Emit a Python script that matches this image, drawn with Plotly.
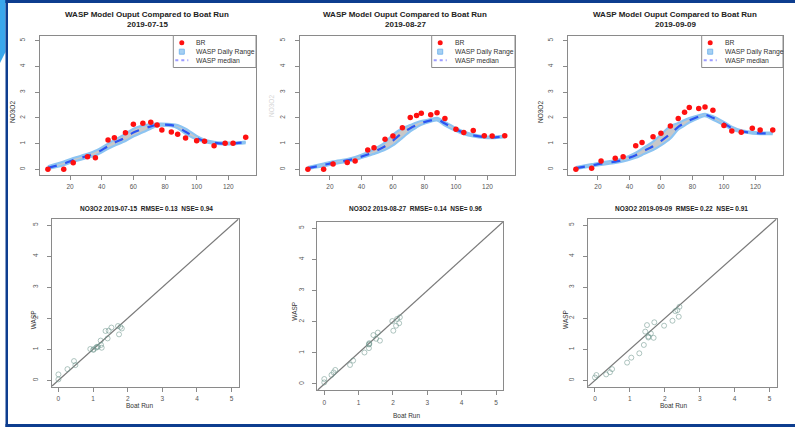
import plotly.graph_objects as go

W, H = 795, 428
def fx(x): return x / W
def fy(y): return 1 - y / H

# ---------------- data ----------------
stations = [6, 16, 22, 31, 36, 44, 48, 55, 60, 66, 71, 75, 78, 84, 88, 93, 100, 105, 111, 118, 123, 131]
dates = ["2019-07-15", "2019-08-27", "2019-09-09"]
rmse = [0.13, 0.14, 0.22]
nse = [0.94, 0.96, 0.91]

br_0715 = [0.0, 0.0, 0.26, 0.49, 0.45, 1.14, 1.23, 1.42, 1.75, 1.79, 1.83, 1.72, 1.53, 1.45, 1.36, 1.22, 1.11, 1.09, 0.92, 1.01, 1.01, 1.25]
br_0827 = [0.0, 0.0, 0.21, 0.27, 0.32, 0.75, 0.84, 1.17, 1.30, 1.62, 2.01, 2.09, 2.18, 2.12, 2.20, 1.98, 1.56, 1.43, 1.51, 1.31, 1.30, 1.31]
br_0909 = [0.0, 0.04, 0.32, 0.43, 0.49, 0.92, 1.04, 1.27, 1.40, 1.68, 1.98, 2.22, 2.40, 2.36, 2.42, 2.30, 1.70, 1.49, 1.44, 1.60, 1.53, 1.53]

med_0715 = [0.06, 0.22, 0.36, 0.52, 0.62, 0.90, 1.03, 1.24, 1.43, 1.57, 1.67, 1.73, 1.74, 1.72, 1.65, 1.46, 1.22, 1.10, 1.03, 1.00, 1.01, 1.05]
lo_0715  = [0.02, 0.16, 0.29, 0.45, 0.54, 0.80, 0.92, 1.10, 1.28, 1.44, 1.58, 1.69, 1.70, 1.68, 1.60, 1.38, 1.16, 1.06, 1.00, 0.97, 0.98, 1.02]
hi_0715  = [0.12, 0.30, 0.44, 0.60, 0.72, 1.00, 1.14, 1.38, 1.58, 1.70, 1.76, 1.78, 1.78, 1.76, 1.72, 1.58, 1.30, 1.15, 1.07, 1.04, 1.04, 1.08]

med_0827 = [0.05, 0.17, 0.25, 0.35, 0.42, 0.58, 0.68, 0.90, 1.12, 1.42, 1.60, 1.72, 1.80, 1.90, 1.95, 1.78, 1.55, 1.42, 1.32, 1.25, 1.24, 1.28]
lo_0827  = [0.02, 0.12, 0.20, 0.30, 0.36, 0.52, 0.60, 0.76, 0.93, 1.22, 1.48, 1.63, 1.73, 1.85, 1.90, 1.70, 1.49, 1.37, 1.28, 1.22, 1.21, 1.25]
hi_0827  = [0.09, 0.22, 0.31, 0.40, 0.48, 0.66, 0.78, 1.05, 1.35, 1.60, 1.72, 1.82, 1.88, 1.95, 2.00, 1.84, 1.61, 1.47, 1.36, 1.28, 1.27, 1.31]

med_0909 = [0.05, 0.15, 0.22, 0.30, 0.37, 0.55, 0.68, 0.90, 1.10, 1.38, 1.65, 1.80, 1.90, 2.05, 2.12, 2.00, 1.78, 1.60, 1.48, 1.42, 1.40, 1.40]
lo_0909  = [0.02, 0.11, 0.17, 0.25, 0.31, 0.45, 0.56, 0.75, 0.93, 1.20, 1.55, 1.70, 1.82, 1.99, 2.07, 1.93, 1.72, 1.55, 1.44, 1.39, 1.37, 1.37]
hi_0909  = [0.09, 0.20, 0.27, 0.35, 0.43, 0.65, 0.80, 1.08, 1.35, 1.68, 1.80, 1.92, 1.99, 2.10, 2.16, 2.06, 1.84, 1.66, 1.52, 1.46, 1.43, 1.43]

# WASP value paired with each boat-run sample (scatter panels)
wasp_0715 = [0.03, 0.19, 0.36, 0.49, 0.62, 1.08, 1.14, 1.35, 1.48, 1.72, 1.67, 1.75, 1.70, 1.60, 1.59, 1.28, 1.08, 1.05, 1.01, 0.98, 1.00, 1.05]
wasp_0827 = [0.05, 0.16, 0.29, 0.37, 0.45, 0.61, 0.75, 1.01, 1.15, 1.39, 1.71, 1.87, 1.95, 2.09, 2.14, 2.02, 1.65, 1.57, 1.45, 1.31, 1.27, 1.28]
wasp_0909 = [0.09, 0.17, 0.19, 0.26, 0.36, 0.57, 0.73, 0.87, 1.14, 1.37, 1.76, 1.92, 2.05, 2.26, 2.37, 2.23, 1.87, 1.78, 1.57, 1.51, 1.41, 1.38]

x_ticks = [20, 40, 60, 80, 100, 120]
v_ticks = [0, 1, 2, 3, 4, 5]

BR = [br_0715, br_0827, br_0909]
MED = [med_0715, med_0827, med_0909]
LO = [lo_0715, lo_0827, lo_0909]
HI = [hi_0715, hi_0827, hi_0909]
WASP = [wasp_0715, wasp_0827, wasp_0909]

# ---------------- layout geometry (pixels) ----------------
top_x = [(40, 256), (300, 515), (568, 783)]
top_y = (35.5, 174.5)
bot_x = [(51.5, 238.5), (317.4, 502.9), (588, 776.5)]
bot_y = [(219, 386.5), (222, 390.2), (219, 386.5)]

FONT = "Liberation Sans, Arial, sans-serif"
BOX = "#8a8a8a"
TICKF = dict(size=6.5, color="#555555", family=FONT)

fig = go.Figure()

for i in range(3):
    xa = "x" if i == 0 else f"x{i+1}"
    ya = "y" if i == 0 else f"y{i+1}"
    fig.add_trace(go.Scatter(x=stations, y=LO[i], mode="lines", line=dict(color="#8cc4f2", width=2.2, shape="spline", smoothing=0.8),
                             xaxis=xa, yaxis=ya, showlegend=False, hoverinfo="skip"))
    fig.add_trace(go.Scatter(x=stations, y=HI[i], mode="lines", fill="tonexty", fillcolor="#c8c8c8",
                             line=dict(color="#8cc4f2", width=2.2, shape="spline", smoothing=0.8),
                             xaxis=xa, yaxis=ya, showlegend=False, hoverinfo="skip"))
    fig.add_trace(go.Scatter(x=stations, y=MED[i], mode="lines",
                             line=dict(color="#2b55f2", width=2.2, dash="dash", shape="spline", smoothing=0.8),
                             xaxis=xa, yaxis=ya, showlegend=False))
    fig.add_trace(go.Scatter(x=stations, y=BR[i], mode="markers", marker=dict(color="#ff1010", size=5.5),
                             xaxis=xa, yaxis=ya, showlegend=False))
    # scatter panel
    j = i + 4
    fig.add_trace(go.Scatter(x=BR[i], y=WASP[i], mode="markers",
                             marker=dict(symbol="circle-open", size=5, color="rgba(110,150,140,0.55)", line=dict(width=1)),
                             xaxis=f"x{j}", yaxis=f"y{j}", showlegend=False))

layout = dict(width=W, height=H, margin=dict(l=0, r=0, t=0, b=0),
              paper_bgcolor="white", plot_bgcolor="white", showlegend=False)

def axis_common():
    return dict(showgrid=False, zeroline=False, showline=True, linecolor=BOX, linewidth=1, mirror=True,
                ticks="outside", ticklen=4, tickcolor=BOX, tickwidth=1, tickfont=TICKF)

for i in range(3):
    k = "" if i == 0 else str(i + 1)
    xd = (fx(top_x[i][0]), fx(top_x[i][1]))
    yd = (fy(top_y[1]), fy(top_y[0]))
    layout["xaxis" + k] = dict(axis_common(), domain=xd, range=[1, 137.5], tickvals=x_ticks,
                               anchor="y" + k, ticklabelstandoff=2)
    layout["yaxis" + k] = dict(axis_common(), domain=yd, range=[-0.2, 5.2], tickvals=v_ticks,
                               anchor="x" + k, tickangle=-90, ticklabelstandoff=7)
    j = str(i + 4)
    xd = (fx(bot_x[i][0]), fx(bot_x[i][1]))
    yd = (fy(bot_y[i][1]), fy(bot_y[i][0]))
    layout["xaxis" + j] = dict(axis_common(), domain=xd, range=[-0.2, 5.2], tickvals=v_ticks,
                               anchor="y" + j, ticklabelstandoff=2)
    layout["yaxis" + j] = dict(axis_common(), domain=yd, range=[-0.2, 5.2], tickvals=v_ticks,
                               anchor="x" + j, tickangle=-90, ticklabelstandoff=6)

fig.update_layout(**layout)

shapes = []
ann = []

def text(x, y, s, size, bold=False, color="#222222", angle=0, xanchor="center"):
    ann.append(dict(x=fx(x), y=fy(y), xref="paper", yref="paper", text=(f"<b>{s}</b>" if bold else s),
                    showarrow=False, xanchor=xanchor, yanchor="middle", textangle=angle,
                    font=dict(size=size, family=FONT, color=color)))

# slide frame
shapes.append(dict(type="rect", xref="paper", yref="paper", x0=fx(5), x1=1, y0=fy(3), y1=1,
                   fillcolor="#0d3d8f", line=dict(width=0), layer="above"))
shapes.append(dict(type="path", xref="paper", yref="paper",
                   path=f"M 0 1 L {fx(5.5)} 1 L {fx(5.5)} {fy(52)} L 0 {fy(63)} Z",
                   fillcolor="#3aa7ec", line=dict(width=0), layer="above"))
shapes.append(dict(type="rect", xref="paper", yref="paper", x0=fx(5.5), x1=fx(8), y0=fy(427), y1=1,
                   fillcolor="#0d3d8f", line=dict(width=0), layer="above"))
shapes.append(dict(type="rect", xref="paper", yref="paper", x0=fx(5.5), x1=1, y0=fy(427), y1=fy(424),
                   fillcolor="#0d3d8f", line=dict(width=0), layer="above"))

# titles and labels
title_cx = [147, 405, 675]
for i in range(3):
    text(title_cx[i], 15, "WASP Model Ouput Compared to Boat Run", 8, bold=True)
    text(title_cx[i], 24.5, dates[i], 8, bold=True)

text(12, 112, "NO3O2", 6.5, angle=-90, color="#333333")
text(272, 106, "NO3O2", 6.5, angle=-90, color="#d6d6d6")
text(540, 112, "NO3O2", 6.5, angle=-90, color="#333333")

sc_title_cx = [146.7, 415, 681.7]
for i in range(3):
    text(sc_title_cx[i], 208.8, f"NO3O2 {dates[i]}  RMSE= {rmse[i]:.2f}  NSE= {nse[i]:.2f}", 6.5, bold=True)

for (x, y) in [(139.3, 405.7), (406.7, 415), (673, 405.7)]:
    text(x, y, "Boat Run", 6.5, color="#333333")
for (x, y) in [(33.3, 320), (295, 311.7), (565, 320)]:
    text(x, y, "WASP", 6.5, angle=-90, color="#333333")

# legends (top panels)
legs = [(173.3, 256), (431.7, 515), (701.7, 783)]
for (L, R) in legs:
    shapes.append(dict(type="rect", xref="paper", yref="paper", x0=fx(L), x1=fx(R), y0=fy(67.5), y1=fy(35.5),
                       fillcolor="white", line=dict(color=BOX, width=1), layer="above"))
    shapes.append(dict(type="circle", xref="paper", yref="paper", x0=fx(L + 6), x1=fx(L + 11),
                       y0=fy(45.2), y1=fy(40.2), fillcolor="#ff1010", line=dict(width=0), layer="above"))
    shapes.append(dict(type="rect", xref="paper", yref="paper", x0=fx(L + 6), x1=fx(L + 11),
                       y0=fy(54.2), y1=fy(49.2), fillcolor="#a6d0f2", line=dict(color="#7cb9ee", width=1), layer="above"))
    shapes.append(dict(type="line", xref="paper", yref="paper", x0=fx(L + 2), x1=fx(L + 15),
                       y0=fy(60.3), y1=fy(60.3), line=dict(color="#9c9cff", width=2, dash="dot"), layer="above"))
    text(L + 21, 42.7, "BR", 6.8, xanchor="left", color="#333333")
    text(L + 21, 51.7, "WASP Daily Range", 6.8, xanchor="left", color="#333333")
    text(L + 21, 60.3, "WASP median", 6.8, xanchor="left", color="#333333")

# 1:1 lines in scatter panels
for i in range(3):
    j = str(i + 4)
    shapes.append(dict(type="line", xref="x" + j, yref="y" + j, x0=-0.2, y0=-0.2, x1=5.2, y1=5.2,
                       line=dict(color="#7a7a7a", width=1.2), layer="below"))

fig.update_layout(shapes=shapes, annotations=ann)
fig.write_html("out.html", config={"displayModeBar": False},
               post_script="document.body.style.margin='0';document.body.style.padding='0';document.body.style.overflow='hidden';")
